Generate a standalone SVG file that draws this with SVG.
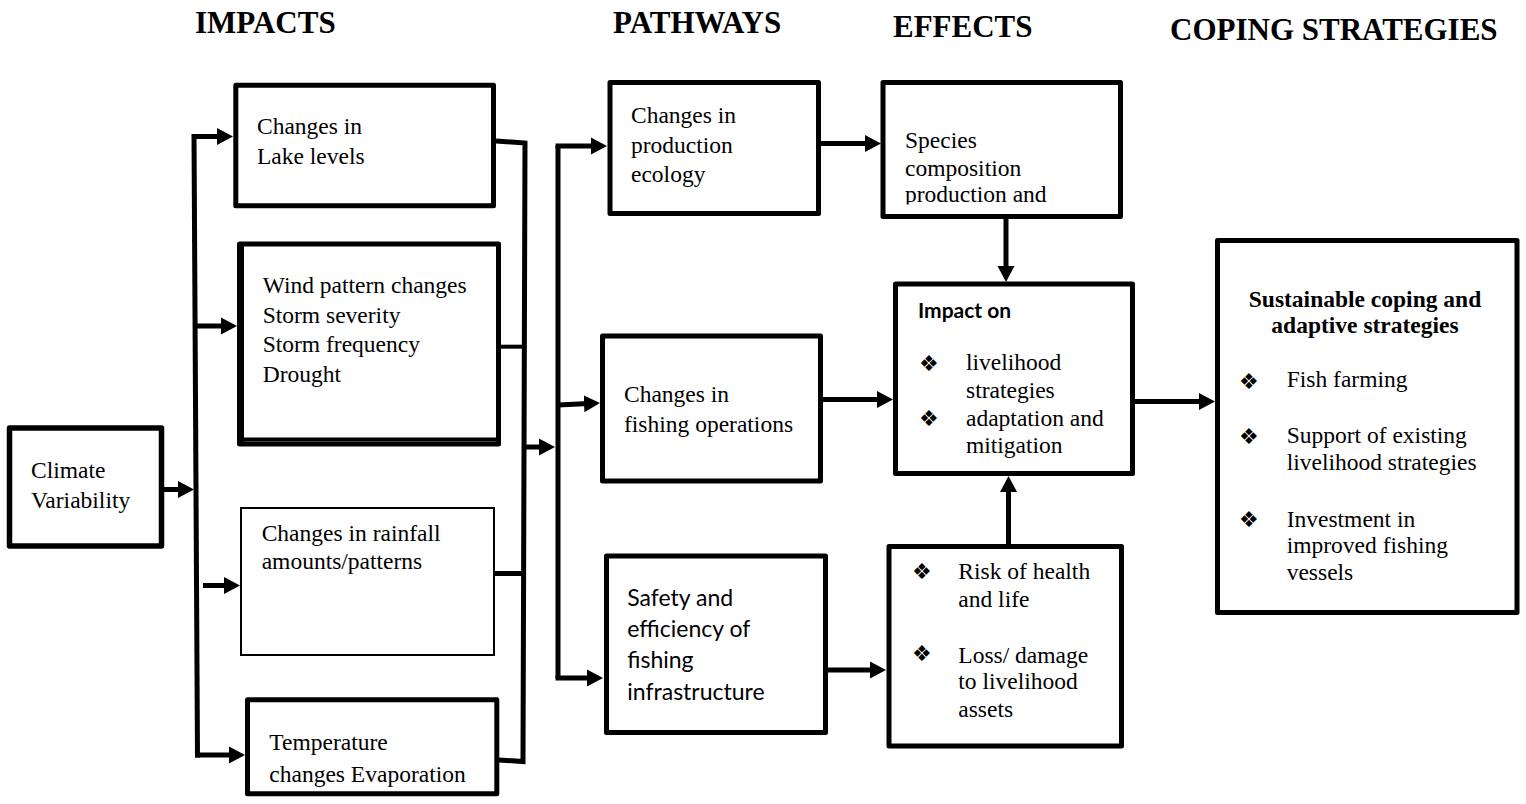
<svg xmlns="http://www.w3.org/2000/svg" width="1526" height="804" viewBox="0 0 1526 804">
<style>
.box{fill:#fff;stroke:#000;stroke-width:5;stroke-linejoin:round}
.thin{fill:#fff;stroke:#000;stroke-width:2}
.t{font-family:"Liberation Serif","Times New Roman",serif;font-size:23.5px;fill:#000}
.tb{font-family:"Liberation Serif","Times New Roman",serif;font-size:23.5px;font-weight:bold;fill:#000}
.h{font-family:"Liberation Serif","Times New Roman",serif;font-size:31px;font-weight:bold;fill:#000}
.s{font-family:Lato,"Liberation Sans",Arial,sans-serif;font-size:23px;fill:#000}
.sb{font-family:Lato,"Liberation Sans",Arial,sans-serif;font-size:21px;font-weight:bold;fill:#000}
.b{font-family:"DejaVu Sans",sans-serif;font-size:22px;fill:#000}
.c{fill:none;stroke:#000;stroke-width:5;stroke-linejoin:miter}
.ca{fill:none;stroke:#000;stroke-width:5;marker-end:url(#ah)}
</style>
<defs>
<marker id="ah" markerUnits="userSpaceOnUse" markerWidth="16" markerHeight="18" viewBox="0 0 16 18" refX="5" refY="9" orient="auto">
<path d="M0,0.5 L16,9 L0,17.5 z" fill="#000"/>
</marker>
<clipPath id="spclip"><rect x="880" y="80" width="245" height="124.5"/></clipPath>
</defs>
<rect width="1526" height="804" fill="#fff"/>

<g id="titles">
<text class="h" x="195" y="33">IMPACTS</text>
<text class="h" x="613" y="33">PATHWAYS</text>
<text class="h" x="893" y="37">EFFECTS</text>
<text class="h" x="1170" y="40">COPING STRATEGIES</text>
</g>

<g id="connectors">
<path class="ca" d="M164,489.5 L183,489.5"/>
<path class="c" d="M194,134 L197.5,757.5"/>
<path class="ca" d="M192,136.5 L222,136.5"/>
<path class="ca" d="M195,326 L226,326"/>
<path class="ca" d="M195,755 L234,755"/>
<path class="ca" d="M203,585.5 L229,585.5"/>
<path class="c" d="M496,141 L525,143 L523,761.5 L499,760"/>
<path class="c" style="stroke-width:4" d="M501,346.7 L524,346.7"/>
<path class="c" d="M495,573.5 L524,573.5"/>
<path class="ca" d="M523,447 L544,447"/>
<path class="c" d="M558,146 L558,678"/>
<path class="ca" d="M555.5,146 L596,146"/>
<path class="ca" d="M555.5,678 L592,678"/>
<path class="ca" d="M558,405 L589,403.5"/>
<path class="ca" d="M820,143.5 L870,143.5"/>
<path class="ca" d="M822,399.5 L882,399.5"/>
<path class="ca" d="M827,670 L875,670"/>
<path class="ca" d="M1006,219 L1006,271"/>
<path class="ca" d="M1008.5,544 L1008.5,487"/>
<path class="ca" d="M1133,401.5 L1204,401.5"/>
</g>

<g id="climate">
<rect class="box" x="9.5" y="428" width="152" height="118" style="stroke-width:5.5"/>
<text class="t" x="31" y="477.5">Climate</text>
<text class="t" x="31" y="508">Variability</text>
</g>

<g id="lake">
<rect class="box" x="235.8" y="85.2" width="257.7" height="120.6"/>
<text class="t" x="257" y="134">Changes in</text>
<text class="t" x="257" y="164">Lake levels</text>
</g>

<g id="wind">
<rect class="box" x="239.5" y="244" width="259" height="200"/>
<line x1="242.5" y1="244" x2="242.5" y2="444" stroke="#000" stroke-width="3"/>
<line x1="240" y1="439.5" x2="499" y2="439.5" stroke="#000" stroke-width="4"/>
<text class="t" x="262.7" y="292.7">Wind pattern changes</text>
<text class="t" x="262.7" y="322.7">Storm severity</text>
<text class="t" x="262.7" y="352.3">Storm frequency</text>
<text class="t" x="262.7" y="381.7">Drought</text>
</g>

<g id="rainfall">
<rect class="thin" x="241" y="508" width="253" height="147"/>
<text class="t" x="261.7" y="540.7">Changes in rainfall</text>
<text class="t" x="261.7" y="569.3">amounts/patterns</text>
</g>

<g id="temperature">
<rect class="box" x="247.5" y="699.8" width="249.3" height="94"/>
<text class="t" x="269.3" y="750">Temperature</text>
<text class="t" x="269.3" y="781.7">changes Evaporation</text>
</g>

<g id="production">
<rect class="box" x="610" y="82.5" width="208.5" height="131"/>
<text class="t" x="631" y="123.3">Changes in</text>
<text class="t" x="631" y="152.7">production</text>
<text class="t" x="631" y="181.7">ecology</text>
</g>

<g id="fishing">
<rect class="box" x="602.5" y="336" width="218" height="145"/>
<text class="t" x="624" y="401.7">Changes in</text>
<text class="t" x="624" y="431.7">fishing operations</text>
</g>

<g id="safety">
<rect class="box" x="606.5" y="556" width="219" height="176.5"/>
<text class="s" x="627.3" y="606">Safety and</text>
<text class="s" x="627.3" y="637.3">efficiency of</text>
<text class="s" x="627.3" y="668.3">fishing</text>
<text class="s" x="627.3" y="700">infrastructure</text>
</g>

<g id="species">
<rect class="box" x="883" y="82.5" width="237.5" height="134"/>
<g clip-path="url(#spclip)">
<text class="t" x="905" y="148">Species</text>
<text class="t" x="905" y="176">composition</text>
<text class="t" x="905" y="202">production and</text>
</g>
</g>

<g id="impact">
<rect class="box" x="895.5" y="284" width="237" height="189.5"/>
<text class="sb" x="918" y="318">Impact on</text>
<text class="b" x="919" y="370.5">❖</text>
<text class="b" x="919" y="425.5">❖</text>
<text class="t" x="966" y="370">livelihood</text>
<text class="t" x="966" y="398">strategies</text>
<text class="t" x="966" y="426">adaptation and</text>
<text class="t" x="966" y="453">mitigation</text>
</g>

<g id="risk">
<rect class="box" x="889" y="546.5" width="232.5" height="199.5"/>
<text class="b" x="912" y="579">❖</text>
<text class="b" x="912" y="660.5">❖</text>
<text class="t" x="958.3" y="579.3">Risk of health</text>
<text class="t" x="958.3" y="606.7">and life</text>
<text class="t" x="958.3" y="662.7">Loss/ damage</text>
<text class="t" x="958.3" y="689.3">to livelihood</text>
<text class="t" x="958.3" y="716.7">assets</text>
</g>

<g id="coping">
<rect class="box" x="1217.5" y="240.5" width="299.5" height="372"/>
<text class="tb" x="1365" y="306.7" text-anchor="middle">Sustainable coping and</text>
<text class="tb" x="1365" y="333" text-anchor="middle">adaptive strategies</text>
<text class="b" x="1239" y="389">❖</text>
<text class="b" x="1239" y="444">❖</text>
<text class="b" x="1239" y="527">❖</text>
<text class="t" x="1286.7" y="386.7">Fish farming</text>
<text class="t" x="1286.7" y="443">Support of existing</text>
<text class="t" x="1286.7" y="470">livelihood strategies</text>
<text class="t" x="1286.7" y="526.7">Investment in</text>
<text class="t" x="1286.7" y="553">improved fishing</text>
<text class="t" x="1286.7" y="580">vessels</text>
</g>
</svg>
